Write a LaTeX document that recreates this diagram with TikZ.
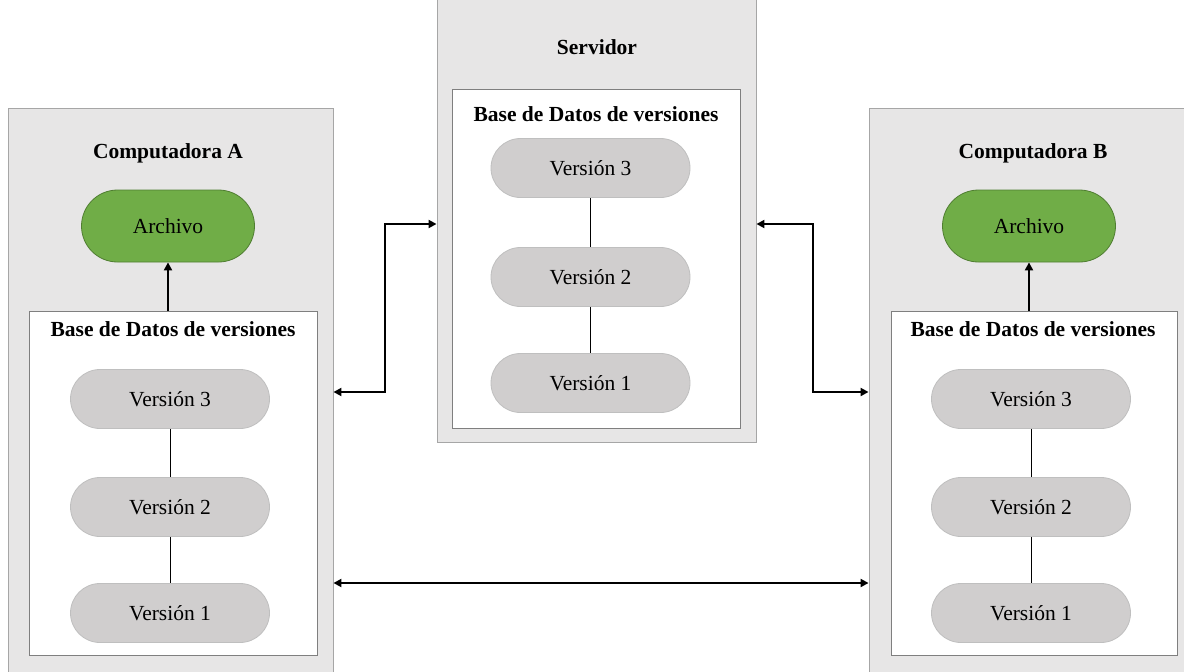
\documentclass[tikz,border=0pt]{standalone}
\usepackage{fontspec}
\setmainfont{Liberation Serif}
\usetikzlibrary{arrows.meta,shapes.misc}

\definecolor{panelfill}{HTML}{E7E6E6}
\definecolor{panelline}{HTML}{A6A6A6}
\definecolor{dbline}{HTML}{7F7F7F}
\definecolor{pillfill}{HTML}{D0CECE}
\definecolor{pillline}{HTML}{BFBFBF}
\definecolor{filefill}{HTML}{70AD47}
\definecolor{fileline}{HTML}{507E32}

\tikzset{
  panel/.style={draw=panelline, fill=panelfill, line width=0.9pt, inner sep=0pt},
  dbbox/.style={draw=dbline, fill=white, line width=0.9pt, inner sep=0pt},
  title/.style={font=\fontsize{21.5}{26}\selectfont\bfseries, inner sep=0pt},
  pill/.style={rounded rectangle, draw=pillline, fill=pillfill, line width=0.8pt,
    minimum width=199pt, minimum height=59pt, inner sep=0pt,
    font=\fontsize{21.5}{26}\selectfont},
  filenode/.style={rounded rectangle, draw=fileline, fill=filefill, line width=0.8pt,
    minimum width=173pt, minimum height=72pt, inner sep=0pt,
    font=\fontsize{21.5}{26}\selectfont},
  link/.style={line width=0.9pt},
  conn/.style={line width=2pt, {Triangle[length=8pt,width=8pt]}-{Triangle[length=8pt,width=8pt]}},
  upconn/.style={line width=2pt, -{Triangle[length=8pt,width=8pt]}}
}

\begin{document}
\begin{tikzpicture}[x=1pt,y=-1pt]
\useasboundingbox (0,0) rectangle (1184,672);
\clip (0,0) rectangle (1184,672);

% outer panels
\node[panel, minimum width=325pt, minimum height=582pt] (PA) at (170.5,399) {};
\node[panel, minimum width=319pt, minimum height=462pt] (PS) at (596.5,211) {};
\node[panel, minimum width=331pt, minimum height=582pt] (PB) at (1034.5,399) {};

% panel titles
\node[title] (TA) at (168,153) {Computadora A};
\node[title] (TS) at (597,47) {Servidor};
\node[title] (TB) at (1033,153) {Computadora B};

% version databases
\node[dbbox, minimum width=288pt, minimum height=344pt] (DA) at (173,483) {};
\node[dbbox, minimum width=288pt, minimum height=339pt] (DS) at (596,258.5) {};
\node[dbbox, minimum width=286pt, minimum height=344pt] (DB) at (1034,483) {};

\node[title] (DTA) at (173,329) {Base de Datos de versiones};
\node[title] (DTS) at (596,114) {Base de Datos de versiones};
\node[title] (DTB) at (1033,329) {Base de Datos de versiones};

% working files
\node[filenode] (FA) at (168,226) {Archivo};
\node[filenode] (FB) at (1029,226) {Archivo};

% versions, computer A
\node[pill] (A3) at (170,399) {Versión 3};
\node[pill] (A2) at (170,507) {Versión 2};
\node[pill] (A1) at (170,613) {Versión 1};
% versions, server
\node[pill] (S3) at (590.5,168) {Versión 3};
\node[pill] (S2) at (590.5,277) {Versión 2};
\node[pill] (S1) at (590.5,383) {Versión 1};
% versions, computer B
\node[pill] (B3) at (1031,399) {Versión 3};
\node[pill] (B2) at (1031,507) {Versión 2};
\node[pill] (B1) at (1031,613) {Versión 1};

% version chains
\draw[link] (A3.south) -- (A2.north) (A2.south) -- (A1.north);
\draw[link] (S3.south) -- (S2.north) (S2.south) -- (S1.north);
\draw[link] (B3.south) -- (B2.north) (B2.south) -- (B1.north);

% checkout arrows
\draw[upconn] (FA.south |- DA.north) -- (FA.south);
\draw[upconn] (FB.south |- DB.north) -- (FB.south);

% exchanges between machines
\draw[conn] (PA.east |- 0,392) -- (385,392) -- (385,224) -- (PS.west |- 0,224);
\draw[conn] (PS.east |- 0,224) -- (813,224) -- (813,392) -- (PB.west |- 0,392);
\draw[conn] (PA.east |- 0,583) -- (PB.west |- 0,583);
\end{tikzpicture}
\end{document}
